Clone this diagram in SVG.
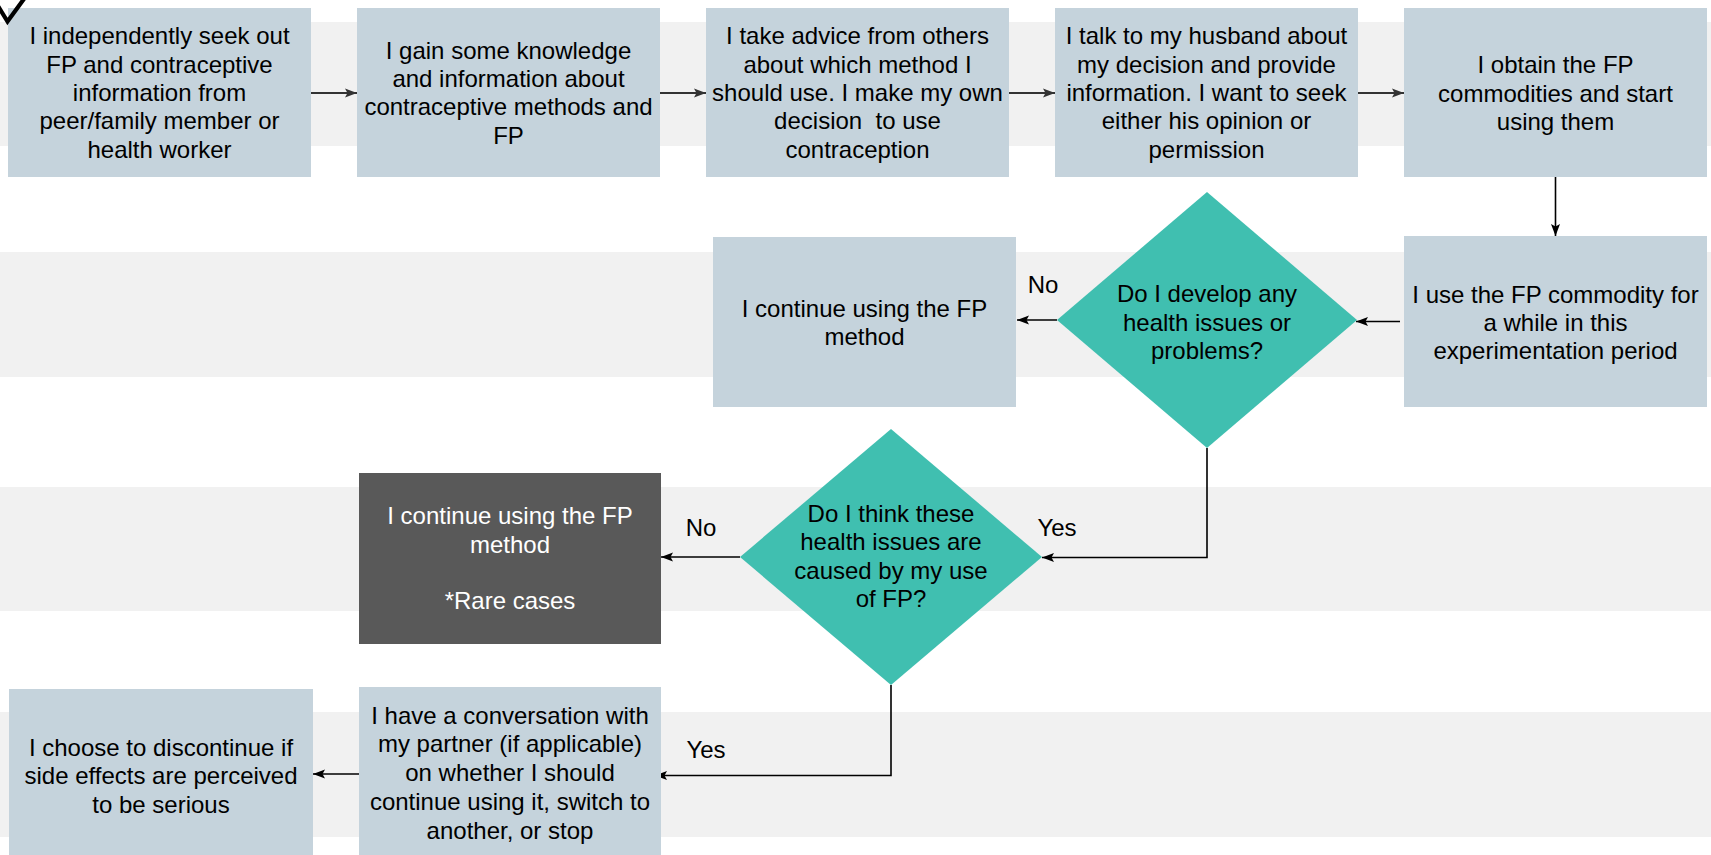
<svg xmlns="http://www.w3.org/2000/svg" width="1711" height="855" viewBox="0 0 1711 855">
<style>
.band{fill:#f1f1f1}
.box{fill:#c5d3dc}
.dark{fill:#595959}
.dia{fill:#40bfb0}
text{font-family:"Liberation Sans",Arial,sans-serif;font-size:24px;fill:#000;text-anchor:middle}
.w{fill:#fff}
.c{fill:none;stroke:#000;stroke-width:1.6}
.c1{fill:none;stroke:#333;stroke-width:2}
</style>
<defs>
<marker id="ah" markerUnits="userSpaceOnUse" markerWidth="13" markerHeight="10" refX="12" refY="5" orient="auto">
<path d="M0,0.5 L12,5 L0,9.5 L2.5,5 z" fill="#000"/>
</marker>
<marker id="ah1" markerUnits="userSpaceOnUse" markerWidth="13" markerHeight="10" refX="12" refY="5" orient="auto">
<path d="M0,0.5 L12,5 L0,9.5 L2.5,5 z" fill="#333"/>
</marker>
</defs>
<rect width="1711" height="855" fill="#fff"/>
<g id="bands">
<rect class="band" x="0" y="22" width="1711" height="124"/>
<rect class="band" x="0" y="252" width="1711" height="125"/>
<rect class="band" x="0" y="487" width="1711" height="124"/>
<rect class="band" x="0" y="712" width="1711" height="125"/>
</g>
<g id="connectors">
<path class="c1" d="M311 93 H357" marker-end="url(#ah1)"/>
<path class="c1" d="M660 93 H706" marker-end="url(#ah1)"/>
<path class="c1" d="M1009 93 H1055" marker-end="url(#ah1)"/>
<path class="c1" d="M1358 93 H1404" marker-end="url(#ah1)"/>
<path class="c" d="M1555.5 177 V236" marker-end="url(#ah)"/>
<path class="c" d="M1400 321.5 H1356" marker-end="url(#ah)"/>
<path class="c" d="M1057 320 H1017" marker-end="url(#ah)"/>
<path class="c" d="M1207 448 V557.5 H1042" marker-end="url(#ah)"/>
<path class="c" d="M740 557 H661" marker-end="url(#ah)"/>
<path class="c" d="M891 685 V775.5 H655" marker-end="url(#ah)"/>
<path class="c" d="M359 774 H313" marker-end="url(#ah)"/>
</g>
<g id="n1">
<rect class="box" x="8" y="8" width="303" height="169"/>
<text x="159.5" y="44.4">I independently seek out</text>
<text x="159.5" y="72.7">FP and contraceptive</text>
<text x="159.5" y="101">information from</text>
<text x="159.5" y="129.3">peer/family member or</text>
<text x="159.5" y="157.6">health worker</text>
</g>
<g id="n2">
<rect class="box" x="357" y="8" width="303" height="169"/>
<text x="508.5" y="58.6">I gain some knowledge</text>
<text x="508.5" y="86.9">and information about</text>
<text x="508.5" y="115.2">contraceptive methods and</text>
<text x="508.5" y="143.5">FP</text>
</g>
<g id="n3">
<rect class="box" x="706" y="8" width="303" height="169"/>
<text x="857.5" y="44.4">I take advice from others</text>
<text x="857.5" y="72.7">about which method I</text>
<text x="857.5" y="101">should use. I make my own</text>
<text x="857.5" y="129.3" xml:space="preserve">decision  to use</text>
<text x="857.5" y="157.6">contraception</text>
</g>
<g id="n4">
<rect class="box" x="1055" y="8" width="303" height="169"/>
<text x="1206.5" y="44.4">I talk to my husband about</text>
<text x="1206.5" y="72.7">my decision and provide</text>
<text x="1206.5" y="101">information. I want to seek</text>
<text x="1206.5" y="129.3">either his opinion or</text>
<text x="1206.5" y="157.6">permission</text>
</g>
<g id="n5">
<rect class="box" x="1404" y="8" width="303" height="169"/>
<text x="1555.5" y="73">I obtain the FP</text>
<text x="1555.5" y="101.5">commodities and start</text>
<text x="1555.5" y="130">using them</text>
</g>
<g id="n6">
<rect class="box" x="1404" y="236" width="303" height="171"/>
<text x="1555.5" y="302.5">I use the FP commodity for</text>
<text x="1555.5" y="331">a while in this</text>
<text x="1555.5" y="359">experimentation period</text>
</g>
<g id="d1">
<polygon class="dia" points="1207,192 1357,320 1207,448 1057,320"/>
<text x="1207" y="302">Do I develop any</text>
<text x="1207" y="330.5">health issues or</text>
<text x="1207" y="359">problems?</text>
</g>
<g id="n7">
<rect class="box" x="713" y="237" width="303" height="170"/>
<text x="864.5" y="316.5">I continue using the FP</text>
<text x="864.5" y="345">method</text>
</g>
<g id="d2">
<polygon class="dia" points="891,429 1042,557 891,685 740,557"/>
<text x="891" y="521.5">Do I think these</text>
<text x="891" y="550">health issues are</text>
<text x="891" y="578.5">caused by my use</text>
<text x="891" y="607">of FP?</text>
</g>
<g id="n8">
<rect class="dark" x="359" y="473" width="302" height="171"/>
<text class="w" x="510" y="524.3">I continue using the FP</text>
<text class="w" x="510" y="552.6">method</text>
<text class="w" x="510" y="609.2">*Rare cases</text>
</g>
<g id="n9">
<rect class="box" x="359" y="687" width="302" height="172"/>
<text x="510" y="723.5">I have a conversation with</text>
<text x="510" y="752">my partner (if applicable)</text>
<text x="510" y="781">on whether I should</text>
<text x="510" y="810">continue using it, switch to</text>
<text x="510" y="839">another, or stop</text>
</g>
<g id="n10">
<rect class="box" x="9" y="689" width="304" height="170"/>
<text x="161" y="755.5">I choose to discontinue if</text>
<text x="161" y="784">side effects are perceived</text>
<text x="161" y="812.5">to be serious</text>
</g>
<g id="labels">
<text x="1043" y="292.5">No</text>
<text x="701" y="535.5">No</text>
<text x="1057" y="535.5">Yes</text>
<text x="706" y="757.5">Yes</text>
</g>
<polyline id="check" points="-2,6 7.5,21.5 29,-8" fill="none" stroke="#000" stroke-width="4.2" stroke-linejoin="miter"/>
</svg>
